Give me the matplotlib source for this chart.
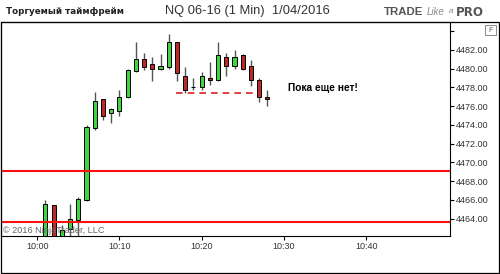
import numpy as np
import matplotlib
matplotlib.use("Agg")
import matplotlib.pyplot as plt
from matplotlib.patches import Rectangle

# 1-min bars, x = minutes after 10:00
minutes = np.arange(1, 29)
opens = [4461.0, 4465.5, 4462.0, 4462.9, 4463.85, 4466.05, 4473.65, 4476.75, 4475.25, 4475.5,
         4476.95, 4479.8, 4481.0, 4480.5, 4479.95, 4480.2, 4482.8, 4479.25, 4478.0, 4478.0,
         4479.0, 4478.75, 4481.25, 4480.25, 4481.5, 4480.25, 4478.75, 4477.0]
closes = [4465.55, 4461.5, 4462.8, 4464.0, 4466.1, 4473.75, 4476.55, 4475.0, 4475.75, 4476.95,
          4479.85, 4481.0, 4480.2, 4480.0, 4480.25, 4482.8, 4479.5, 4477.75, 4478.0, 4479.25,
          4478.75, 4481.5, 4480.25, 4481.25, 4479.95, 4478.75, 4477.0, 4476.75]
highs = [4466.05, 4465.5, 4463.3, 4465.55, 4466.35, 4474.0, 4477.55, 4476.75, 4475.8, 4477.75,
         4480.0, 4482.8, 4481.7, 4481.2, 4481.55, 4483.7, 4482.8, 4480.2, 4479.0, 4479.6,
         4480.75, 4482.8, 4481.65, 4481.95, 4481.6, 4480.9, 4479.0, 4477.75]
lows = [4461.0, 4461.0, 4462.0, 4462.0, 4462.0, 4465.9, 4473.45, 4474.5, 4474.25, 4474.95,
        4476.9, 4479.6, 4479.85, 4478.7, 4479.85, 4479.95, 4478.7, 4477.4, 4477.75, 4477.75,
        4478.25, 4478.7, 4479.25, 4479.95, 4479.85, 4478.2, 4476.5, 4476.0]

levels = [4469.05, 4463.6]          # red horizontal lines
dash_level = 4477.45                # dashed line
dash_span = (16.9, 26.8)

yticks = np.arange(4464, 4484, 2)
xticks = [0, 10, 20, 30, 40]
xlabels = ["10:00", "10:10", "10:20", "10:30", "10:40"]

W, H = 500, 274
fig = plt.figure(figsize=(W / 100, H / 100), dpi=100)
ax = fig.add_axes([1 / W, (H - 236) / H, 449 / W, 214 / H])

opens = np.array(opens); closes = np.array(closes)
up = closes >= opens
ax.vlines(minutes, lows, highs, color="#555555", lw=1, zorder=2)
ax.bar(minutes, np.abs(closes - opens), bottom=np.minimum(opens, closes), width=0.5,
       color=np.where(up, "#40d440", "#c02828"), edgecolor="black", lw=0.7, zorder=3)

for lv in levels:
    ax.axhline(lv, color="#ff1010", lw=1.5, zorder=4)
ax.hlines(dash_level, *dash_span, color="#e02020", lw=1.2, linestyles=(0, (4, 3)), zorder=4)

ax.text(30.5, 4477.95, "Пока еще нет!", fontsize=7.3, fontweight="bold",
        family="Liberation Sans", va="center", ha="left")
ax.text(-4.2, 4462.7, "© 2016 NinjaTrader, LLC", fontsize=6.6, color="#666666",
        family="Liberation Sans", va="center", ha="left", zorder=5)

ax.set_xlim(-4.4, 50.2)
ax.set_ylim(4462.16, 4484.98)
ax.yaxis.tick_right()
ax.set_yticks(list(yticks) + [4484])
ax.set_yticklabels([f"{v:.2f}" for v in yticks] + [""])
ax.set_xticks(xticks)
ax.set_xticklabels(xlabels)
ax.tick_params(axis="both", labelsize=6.5, labelcolor="#333333", length=3, width=0.8, pad=1.5)
for lbl in ax.get_xticklabels() + ax.get_yticklabels():
    lbl.set_family("Liberation Sans")
for s in ax.spines.values():
    s.set_linewidth(0.8)

# outer frame
fig.add_artist(Rectangle((1 / W, 1 / H), 498 / W, 251 / H, transform=fig.transFigure,
                         fill=False, edgecolor="black", lw=0.9))
fig.add_artist(Rectangle((485 / W, (H - 35) / H), 11 / W, 10 / H, transform=fig.transFigure,
                         fill=False, edgecolor="#888888", lw=0.7))
fig.text(490.5 / W, (H - 30) / H, "F", fontsize=5, color="#555555", ha="center", va="center",
         family="Liberation Sans")

# header
fig.text(6 / W, (H - 11) / H, "Торгуемый таймфрейм", fontsize=6.3, fontweight="bold",
         family="DejaVu Sans", va="center", ha="left", color="#222222")
fig.text(165 / W, (H - 11) / H, "NQ 06-16 (1 Min)  1/04/2016", fontsize=9.3,
         family="Liberation Sans", va="center", ha="left", color="#333333")
fig.text(384 / W, (H - 12) / H, "TRADE", fontsize=8.2, fontweight="bold",
         family="Liberation Sans", va="center", ha="left", color="#555555")
fig.text(427 / W, (H - 12) / H, "Like", fontsize=7, style="italic",
         family="Liberation Sans", va="center", ha="left", color="#8a8a8a")
fig.text(448.5 / W, (H - 11.5) / H, "a", fontsize=6, style="italic",
         family="Liberation Sans", va="center", ha="left", color="#8a8a8a")
fig.text(456 / W, (H - 12) / H, "PRO", fontsize=8.6, fontweight="bold",
         family="DejaVu Sans", va="center", ha="left", color="#555555")

fig.savefig("out.png", dpi=100)
